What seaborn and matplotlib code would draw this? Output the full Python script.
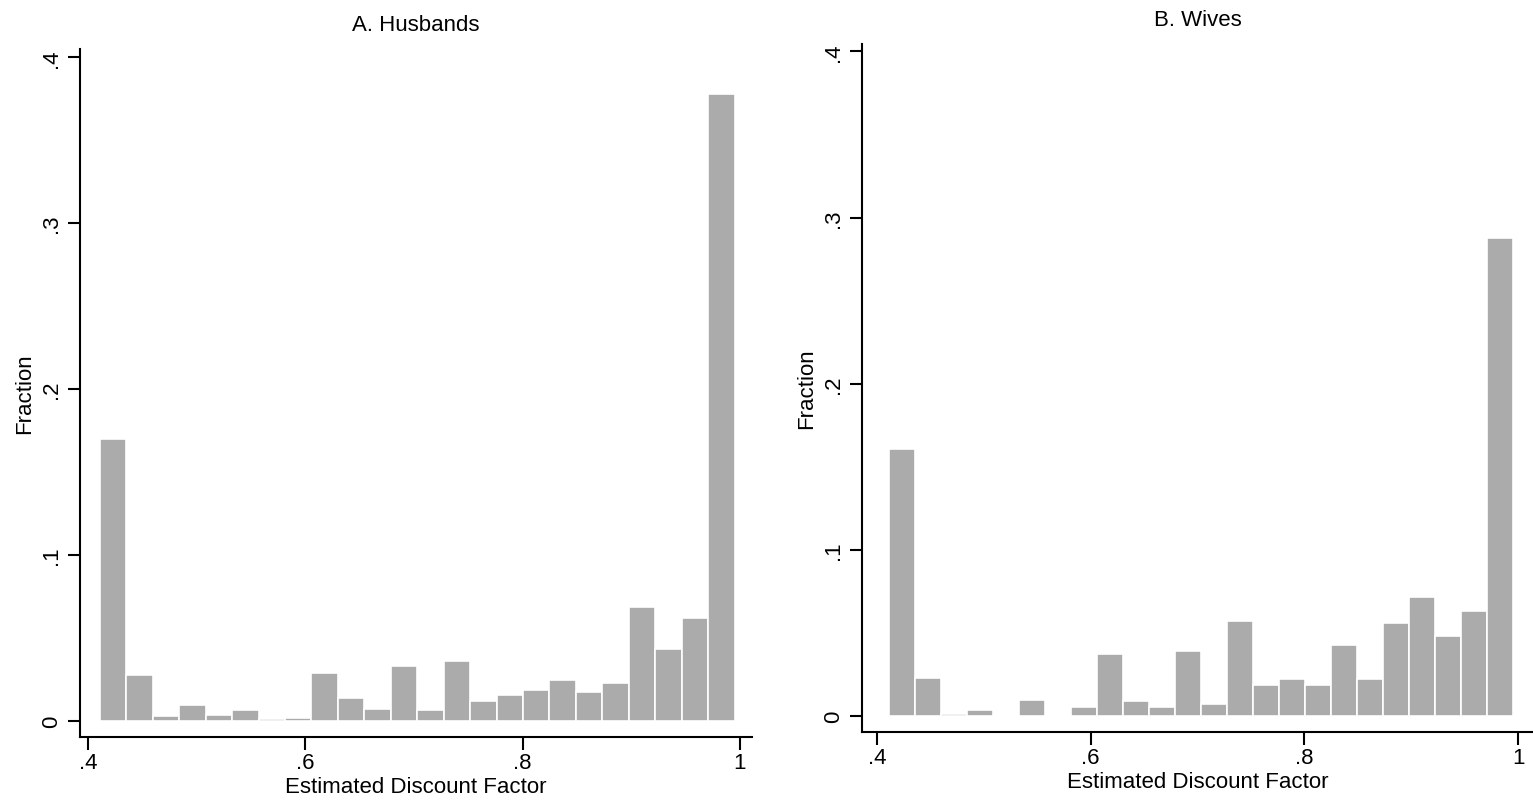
import numpy as np
import pandas as pd
import matplotlib
matplotlib.use("Agg")
import matplotlib.pyplot as plt
import seaborn as sns

# ---- data ----
bin_lo = 0.411
bin_hi = 0.995
n_bins = 24

husbands_frac = [0.170, 0.028, 0.003, 0.0095, 0.0035, 0.0067, 0.0015, 0.0019,
                 0.0287, 0.0139, 0.0071, 0.0329, 0.0065, 0.0360, 0.0120, 0.0160,
                 0.0190, 0.0245, 0.0175, 0.0230, 0.0685, 0.0435, 0.0620, 0.3780]
wives_frac = [0.161, 0.023, 0.0015, 0.0035, 0.0, 0.0095, 0.0, 0.0055,
              0.0375, 0.0090, 0.0055, 0.0390, 0.0070, 0.0575, 0.0185, 0.0220,
              0.0185, 0.0430, 0.0220, 0.0560, 0.0715, 0.0480, 0.0630, 0.2880]

titles = ["A. Husbands", "B. Wives"]
x_ticks = [0.4, 0.6, 0.8, 1.0]
x_ticklabels = [".4", ".6", ".8", "1"]
y_ticks = [0.0, 0.1, 0.2, 0.3, 0.4]
y_ticklabels = ["0", ".1", ".2", ".3", ".4"]
x_label = "Estimated Discount Factor"
y_label = "Fraction"

edges = np.linspace(bin_lo, bin_hi, n_bins + 1)
centers = (edges[:-1] + edges[1:]) / 2

sns.set_style("white")
plt.rcParams['font.family'] = ['Liberation Sans', 'DejaVu Sans']
plt.rcParams['text.color'] = 'black'
plt.rcParams['axes.labelcolor'] = 'black'

fig = plt.figure(figsize=(15.33, 8.03), dpi=100)
ax_rects = [
    [80 / 1533, (803 - 738) / 803, 672 / 1533, 688 / 803],
    [862 / 1533, (803 - 733) / 803, 671 / 1533, 688 / 803],
]
xlims = [(0.3926, 1.0111), (0.386, 1.014)]
ylims = [(-0.0096, 0.405), (-0.0096, 0.4045)]
title_pads = [14, 14]

for i, (fr, title) in enumerate(zip([husbands_frac, wives_frac], titles)):
    ax = fig.add_axes(ax_rects[i])
    df = pd.DataFrame({"x": centers, "w": fr})
    sns.histplot(data=df, x="x", weights="w", bins=n_bins,
                 binrange=(bin_lo, bin_hi), stat="count",
                 color="#ababab", edgecolor="white", linewidth=1.2,
                 alpha=1.0, ax=ax)
    ax.set_xlim(*xlims[i])
    ax.set_ylim(*ylims[i])
    ax.set_xticks(x_ticks)
    ax.set_xticklabels(x_ticklabels)
    ax.set_yticks(y_ticks)
    ax.set_yticklabels(y_ticklabels, rotation=90, va="center")
    ax.set_xlabel(x_label, fontsize=16, labelpad=2, color="black")
    ax.set_ylabel(y_label, fontsize=16, labelpad=4, color="black")
    ax.set_title(title, fontsize=16, pad=title_pads[i], color="black")
    for s in ["top", "right"]:
        ax.spines[s].set_visible(False)
    for s in ["left", "bottom"]:
        ax.spines[s].set_color("black")
        ax.spines[s].set_linewidth(1.5)
    ax.tick_params(axis="both", direction="out", length=9, width=1.5,
                   colors="black", labelcolor="black", labelsize=16,
                   left=True, bottom=True)
    ax.tick_params(axis="y", pad=4)
    ax.tick_params(axis="x", pad=2)
    ax.set_facecolor("white")

fig.savefig("out.png", dpi=100, facecolor="white")
